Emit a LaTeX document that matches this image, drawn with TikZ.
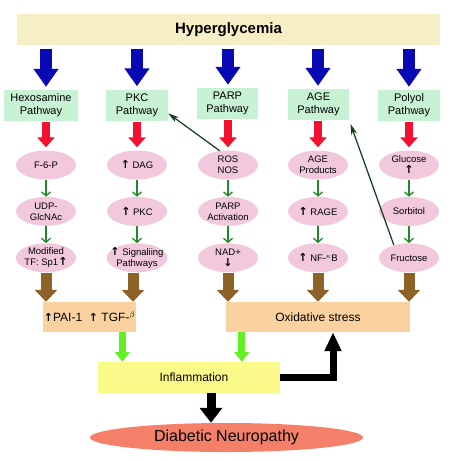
\documentclass[tikz,border=0pt]{standalone}
\usepackage{fontspec}
\setmainfont{Liberation Sans}
\newfontfamily\arrowfont{DejaVu Sans}
\usetikzlibrary{arrows.meta,shapes.geometric,positioning,calc}
\definecolor{hyperfill}{HTML}{F6EEC4}
\definecolor{pathfill}{HTML}{C8F2D4}
\definecolor{stepfill}{HTML}{F2C8DD}
\definecolor{stressfill}{HTML}{FAD2A0}
\definecolor{inflfill}{HTML}{FAFA8A}
\definecolor{neurofill}{HTML}{F4806A}
\definecolor{pathblue}{HTML}{0808B4}
\definecolor{pathred}{HTML}{F51030}
\definecolor{pathbrown}{HTML}{8C6226}
\definecolor{pathlime}{HTML}{62F022}
\definecolor{pathgreen}{HTML}{22882A}
\definecolor{feedgreen}{HTML}{0E3A14}
\newcommand{\riseup}{{\arrowfont\fontsize{11}{11}\selectfont\bfseries ↑}}
\newcommand{\falldown}{{\arrowfont\fontsize{11}{11}\selectfont\bfseries ↓}}
\tikzset{
    topbox/.style={fill=hyperfill, minimum width=423pt, minimum height=31pt,
        font=\fontsize{15}{17}\selectfont\bfseries},
    pathbox/.style={fill=pathfill, minimum height=31pt, inner sep=1pt,
        align=center, font=\fontsize{11}{13}\selectfont},
    stepnode/.style={ellipse, fill=stepfill, minimum width=60pt,
        minimum height=29pt, inner sep=-5pt, align=center,
        font=\fontsize{9.5}{11}\selectfont},
    stressbox/.style={fill=stressfill, minimum height=30pt, inner sep=1pt,
        font=\fontsize{12}{14}\selectfont},
    bluearrow/.style={draw=pathblue, line width=12pt,
        -{Triangle[length=18pt,width=24pt]}},
    redarrow/.style={draw=pathred, line width=8pt,
        -{Triangle[length=10pt,width=17pt]}},
    brownarrow/.style={draw=pathbrown, line width=11pt,
        -{Triangle[length=12pt,width=22pt]}},
    limearrow/.style={draw=pathlime, line width=7pt,
        -{Triangle[length=10pt,width=15pt]}},
    blackarrow/.style={draw=black, line join=miter,
        -{Triangle[length=19pt,width=16pt]}},
    steparrow/.style={draw=pathgreen, line width=1.3pt,
        -{Straight Barb[length=4pt,width=9pt]}},
    feedarrow/.style={draw=feedgreen, line width=1.2pt,
        -{Stealth[length=11pt,width=6pt]}}
}
\begin{document}
\begin{tikzpicture}[x=1pt, y=-1pt]
    \useasboundingbox (0,0) rectangle (450,461);

    \node[topbox] (hyper) at (228.5,29.5) {Hyperglycemia};

    \node[pathbox, minimum width=74pt] (hexo) at (41,105.5) {Hexosamine\\Pathway};
    \node[pathbox, minimum width=62pt] (pkc) at (137,105) {PKC\\Pathway};
    \node[pathbox, minimum width=61pt] (parp) at (227.5,103.5) {PARP\\Pathway};
    \node[pathbox, minimum width=61pt] (age) at (318.5,104.5) {AGE\\Pathway};
    \node[pathbox, minimum width=62pt] (polyol) at (409,105.5) {Polyol\\Pathway};

    % hexosamine column
    \node[stepnode] (f6p) at (46,165) {F-6-P};
    \node[stepnode, below=17pt of f6p] (udp) {UDP-\\GlcNAc};
    \node[stepnode, below=17pt of udp] (sp1) {Modified\\TF: Sp1\riseup};
    % PKC column
    \node[stepnode] (dag) at (137,165) {\riseup\ DAG};
    \node[stepnode, below=17pt of dag] (pkcup) {\riseup\ PKC};
    \node[stepnode, below=17pt of pkcup] (signal) {\riseup\ Signaliing\\Pathways};
    % PARP column
    \node[stepnode] (ros) at (228,165) {ROS\\NOS};
    \node[stepnode, below=17pt of ros] (parpact) {PARP\\Activation};
    \node[stepnode, below=17pt of parpact] (nad) {NAD+\\\falldown};
    % AGE column
    \node[stepnode] (agep) at (318,165) {AGE\\Products};
    \node[stepnode, below=17pt of agep] (rage) {\riseup\ RAGE};
    \node[stepnode, below=17pt of rage] (nfkb) {\riseup\ NF-$^{\kappa}$B};
    % polyol column
    \node[stepnode] (glu) at (409,165) {Glucose\\\riseup};
    \node[stepnode, below=17pt of glu] (sorb) {Sorbitol};
    \node[stepnode, below=17pt of sorb] (fru) {Fructose};

    \node[stressbox, minimum width=91pt] (pai) at (89.5,317)
        {\riseup PAI-1\ \ \riseup\ TGF-$^{\beta}$};
    \node[stressbox, minimum width=184pt] (oxid) at (318,317) {Oxidative stress};
    \node[fill=inflfill, minimum width=182pt, minimum height=31pt,
        font=\fontsize{12}{14}\selectfont] (infl) at (189,377.5)
        {\hspace*{10pt}Inflammation};
    \node[ellipse, fill=neurofill, minimum width=273pt, minimum height=29pt,
        inner sep=0pt, font=\fontsize{16}{18}\selectfont] (neuro) at (226.5,437.5)
        {Diabetic Neuropathy};

    \foreach \col/\pbox in {f6p/hexo, dag/pkc, ros/parp, agep/age, glu/polyol} {
        \draw[bluearrow, shorten <=4pt, shorten >=3pt]
            (hyper.south -| \col) -- (\col |- \pbox.north);
        \draw[redarrow, shorten <=1pt, shorten >=3pt]
            (\col |- \pbox.south) -- (\col.north);
    }

    \draw[steparrow] (f6p) -- (udp);
    \draw[steparrow] (udp) -- (sp1);
    \draw[steparrow] (dag) -- (pkcup);
    \draw[steparrow] (pkcup) -- (signal);
    \draw[steparrow] (ros) -- (parpact);
    \draw[steparrow] (parpact) -- (nad);
    \draw[steparrow] (agep) -- (rage);
    \draw[steparrow] (rage) -- (nfkb);
    \draw[steparrow] (glu) -- (sorb);
    \draw[steparrow] (sorb) -- (fru);

    \draw[feedarrow] (ros.120) -- (pkc.-15);
    \draw[feedarrow, shorten >=4pt] (fru.140) -- (age.south east);

    \coordinate (sigout) at ([xshift=-4pt]signal.south);
    \draw[brownarrow] (sp1.south) -- (sp1.south |- pai.north);
    \draw[brownarrow] (sigout) -- (sigout |- pai.north);
    \draw[brownarrow] (nad.south) -- (nad.south |- oxid.north);
    \draw[brownarrow] (nfkb.south) -- (nfkb.south |- oxid.north);
    \draw[brownarrow] (fru.south) -- (fru.south |- oxid.north);

    \coordinate (paiout) at ([xshift=-14pt]pai.south east);
    \coordinate (oxidout) at ([xshift=16pt]oxid.south west);
    \draw[limearrow] (paiout) -- (paiout |- infl.north);
    \draw[limearrow] (oxidout) -- (oxidout |- infl.north);

    \coordinate (oxidin) at ([xshift=15pt]oxid.south);
    \coordinate (inflout) at ([xshift=22pt]infl.south);
    \draw[blackarrow, line width=7pt, shorten <=-0.5pt] (infl.east) -| (oxidin);
    \draw[blackarrow, line width=9pt, -{Triangle[length=15pt,width=22pt]}]
        (inflout) -- (inflout |- neuro.north);
\end{tikzpicture}
\end{document}
